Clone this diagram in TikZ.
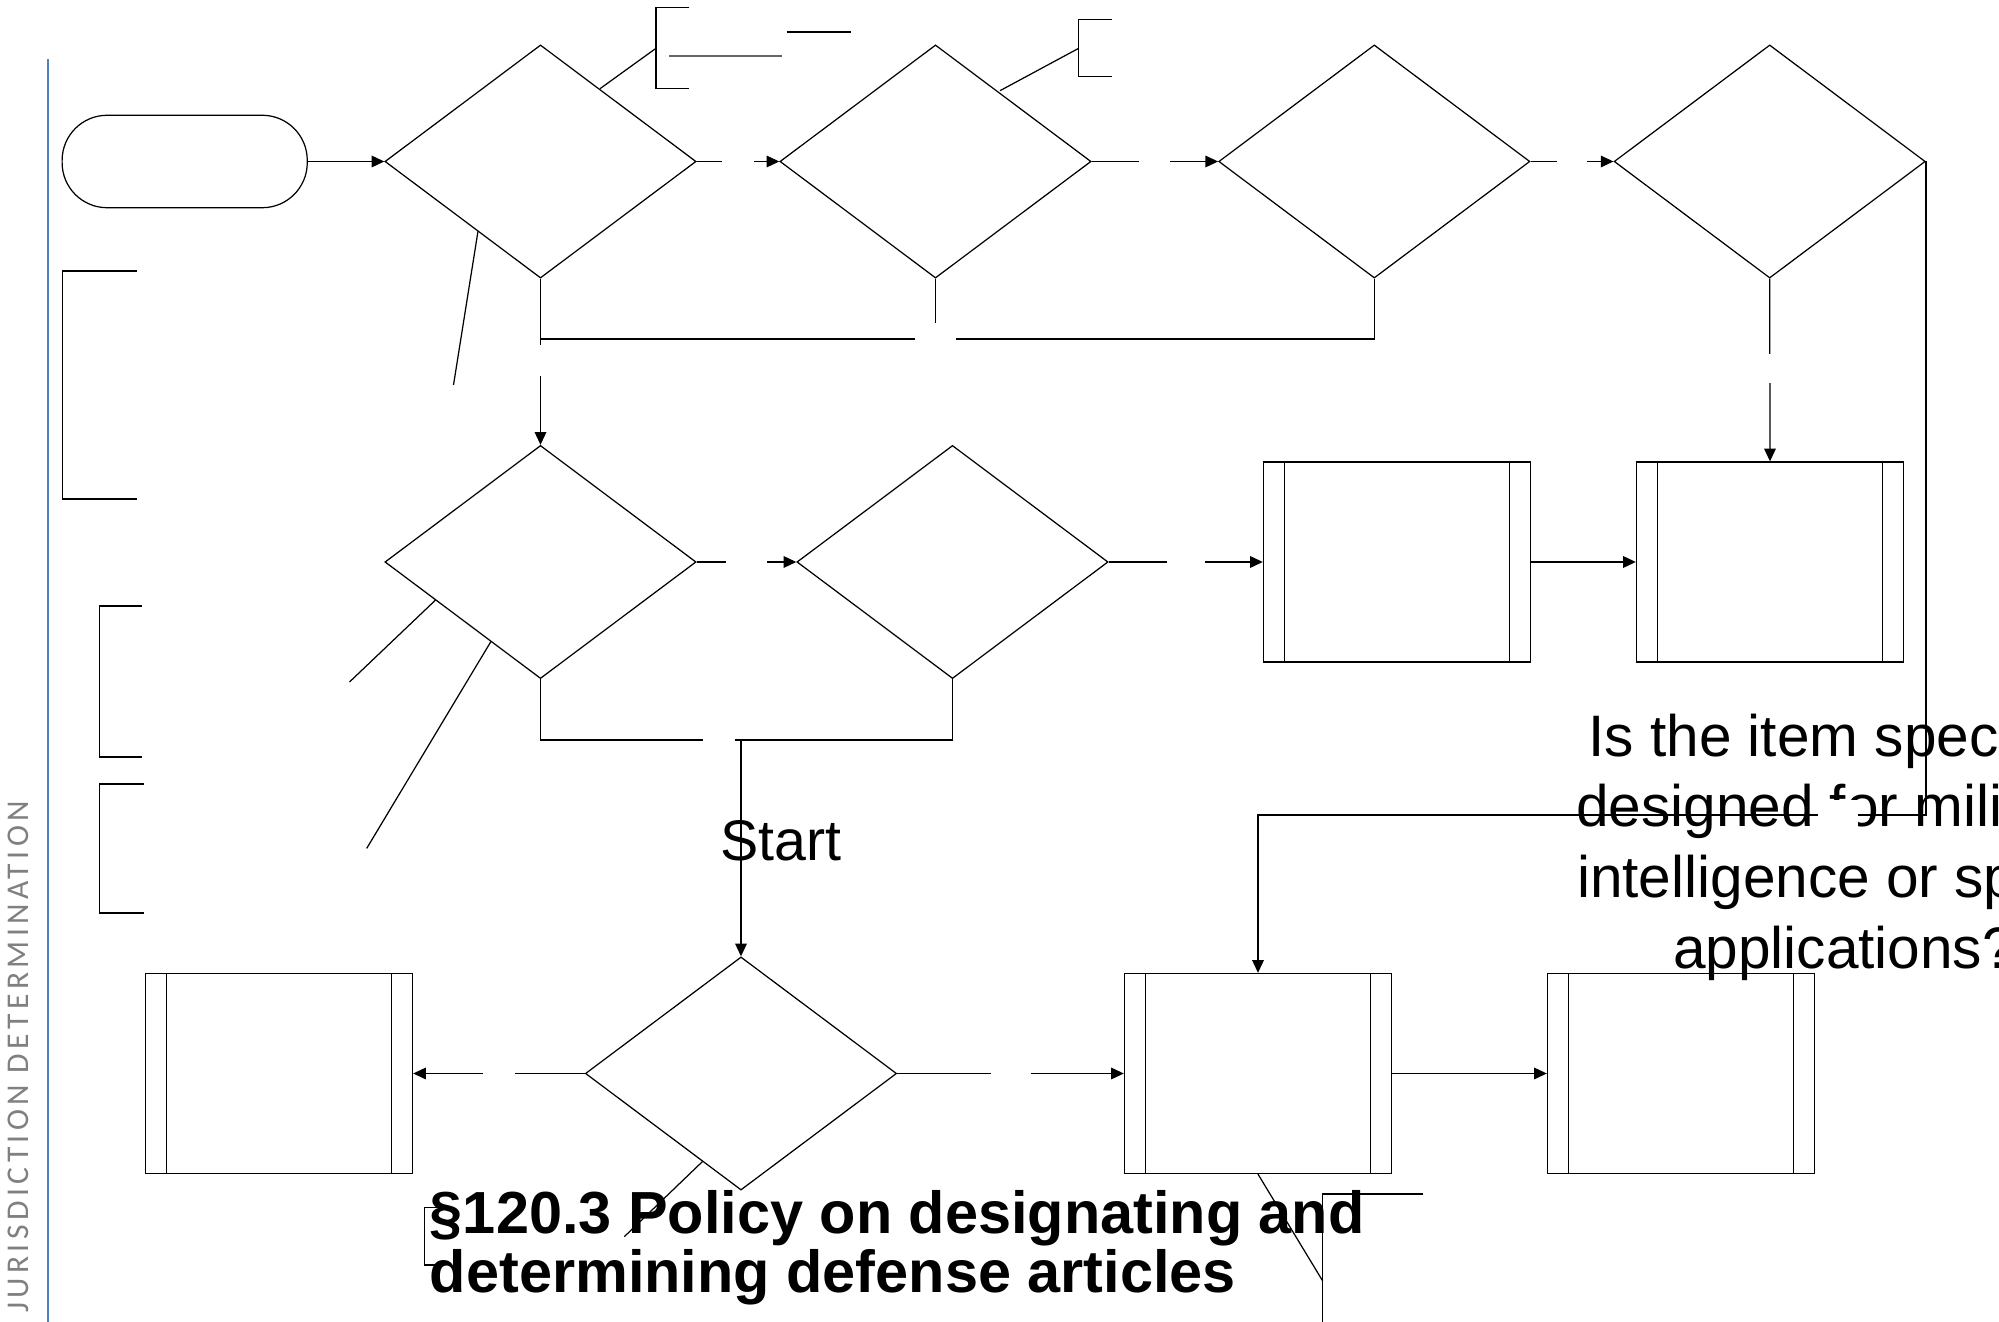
\documentclass[tikz,border=0pt]{standalone}
\usepackage{fontspec}
\setmainfont{Liberation Sans}
\newfontfamily\sidefont[LetterSpace=14]{Carlito}
\usetikzlibrary{shapes.geometric,arrows.meta}
\definecolor{sideblue}{HTML}{4F81BD}
\definecolor{sidegray}{HTML}{808080}

\begin{document}
\begin{tikzpicture}[x=0.01cm, y=-0.01cm, line width=0.35pt,
  decision/.style={draw, diamond, minimum width=3.11cm, minimum height=2.33cm, inner sep=0},
  subproc/.style={draw, rectangle, minimum width=2.67cm, minimum height=2.0cm, inner sep=0,
    path picture={
      \draw ([xshift=0.214cm]path picture bounding box.north west) -- ([xshift=0.214cm]path picture bounding box.south west);
      \draw ([xshift=-0.214cm]path picture bounding box.north east) -- ([xshift=-0.214cm]path picture bounding box.south east);}},
  terminal/.style={draw, rectangle, rounded corners=0.45cm, minimum width=2.45cm, minimum height=0.924cm},
  blank/.style={fill=white, inner sep=0},
  arr/.style={-{Triangle[length=3.6pt, width=3.3pt]}},
]
\useasboundingbox (0,0) rectangle (1999,1322);
\clip (0,0) rectangle (1999,1322);

% side bar
\draw [sideblue, line width=0.5pt] (48.3,59) -- (48.3,1322);
\node [rotate=90, inner sep=0, text=sidegray, font=\sidefont\fontsize{9}{10}\selectfont] (side) at (18,1057) {JURISDICTION DETERMINATION};

% texts
\node [anchor=north, align=center, inner sep=0, font=\fontsize{16.65}{20.1}\selectfont] (question) at (1844,713) {Is the item specially\\designed for military,\\intelligence or space\\applications?};
\node [anchor=base, inner sep=0, font=\fontsize{16.3}{20}\selectfont] (startlbl) at (781,861) {Start};
\node [anchor=north west, align=left, inner sep=0, font=\bfseries\fontsize{16.9}{16.6}\selectfont] (title) at (429.3,1190) {§120.3 Policy on designating and\\determining defense articles};

% shapes
\node [terminal] (start) at (184.7,161.5) {};
\node [decision] (d1) at (540.5,161.5) {};
\node [decision] (d2) at (935.5,161.5) {};
\node [decision] (d3) at (1374.3,161.5) {};
\node [decision] (d4) at (1769.7,161.5) {};
\node [decision] (d5) at (540.5,562) {};
\node [decision] (d6) at (952.5,562) {};
\node [subproc] (p1) at (1397,562) {};
\node [subproc] (p2) at (1770,562) {};
\node [decision] (d7) at (741,1073.5) {};
\node [subproc] (p0) at (279,1073.5) {};
\node [subproc] (p3) at (1258,1073.5) {};
\node [subproc] (p4) at (1681,1073.5) {};

\coordinate (j1) at (540.5,339);
\coordinate (j2) at (741,740);
\coordinate (c1) at (1258,815);

% connectors
\draw [arr] (start.east) -- (d1.west);
\draw [arr] (d1.east) -- node [blank, minimum width=0.31cm, minimum height=0.3cm] (g1) {} (d2.west);
\draw [arr] (d2.east) -- node [blank, minimum width=0.31cm, minimum height=0.3cm] (g2) {} (d3.west);
\draw [arr] (d3.east) -- node [blank, minimum width=0.30cm, minimum height=0.3cm] (g3) {} (d4.west);
\draw (d3.south) |- (j1);
\draw (d2.south) -- node [blank, pos=1, minimum width=0.41cm, minimum height=0.32cm] (g5) {} (d2.south |- j1);
\draw [arr] (d1.south) -- node [blank, pos=0.49, minimum width=0.3cm, minimum height=0.31cm] (g4) {} (d5.north);
\draw [arr] (d5.east) -- node [blank, minimum width=0.40cm, minimum height=0.3cm] (g6) {} (d6.west);
\draw [arr] (d6.east) -- node [blank, minimum width=0.38cm, minimum height=0.3cm] (g7) {} (p1.west);
\draw [arr] (p1.east) -- (p2.west);
\draw [arr] (d4.south) -- node [blank, pos=0.49, minimum width=0.3cm, minimum height=0.29cm] (g8) {} (p2.north);
\draw [arr] (d4.east) |- (c1) -- (p3.north);
\node [blank, minimum width=0.40cm, minimum height=0.30cm] (g9) at (1838,815) {};
\draw (d5.south) |- (d6.south |- j2) -- (d6.south);
\node [blank, minimum width=0.32cm, minimum height=0.30cm] (g10) at (719,740) {};
\draw [arr] (j2) -- (d7.north);
\draw [arr] (d7.west) -- node [blank, minimum width=0.31cm, minimum height=0.3cm] (g11) {} (p0.east);
\draw [arr] (d7.east) -- node [blank, minimum width=0.40cm, minimum height=0.3cm] (g12) {} (p3.west);
\draw [arr] (p3.east) -- (p4.west);

% callouts
\draw (600,88.7) -- (656,48.3);
\draw (689.3,7.3) -- (656,7.3) -- (656,88.7) -- (689.3,88.7);
\draw [gray!80!black, line width=0.6pt] (669,55.7) -- (781.7,55.7);
\draw [line width=0.45pt] (786.7,32) -- (850.7,32);
\draw (1000,90.7) -- (1078.7,48.3);
\draw (1112,19.3) -- (1078.7,19.3) -- (1078.7,76.7) -- (1112,76.7);
\draw (137,271) -- (62.5,271) -- (62.5,499) -- (137,499);
\draw (478,231.2) -- (453.5,385);
\draw (141.6,606) -- (99.5,606) -- (99.5,757) -- (141.6,757);
\draw (144,784) -- (99.5,784) -- (99.5,913) -- (144,913);
\draw (435.6,600) -- (349.5,682);
\draw (491,641.4) -- (366.7,848.4);
\draw (702.5,1161.5) -- (624.3,1236.7);
\draw (436.7,1207.3) -- (424.3,1207.3) -- (424.3,1265) -- (436.7,1265);
\draw (p3.south) -- (1322.7,1281);
\draw (1423.3,1194) -- (1322.7,1194) -- (1322.7,1322);

\end{tikzpicture}
\end{document}
